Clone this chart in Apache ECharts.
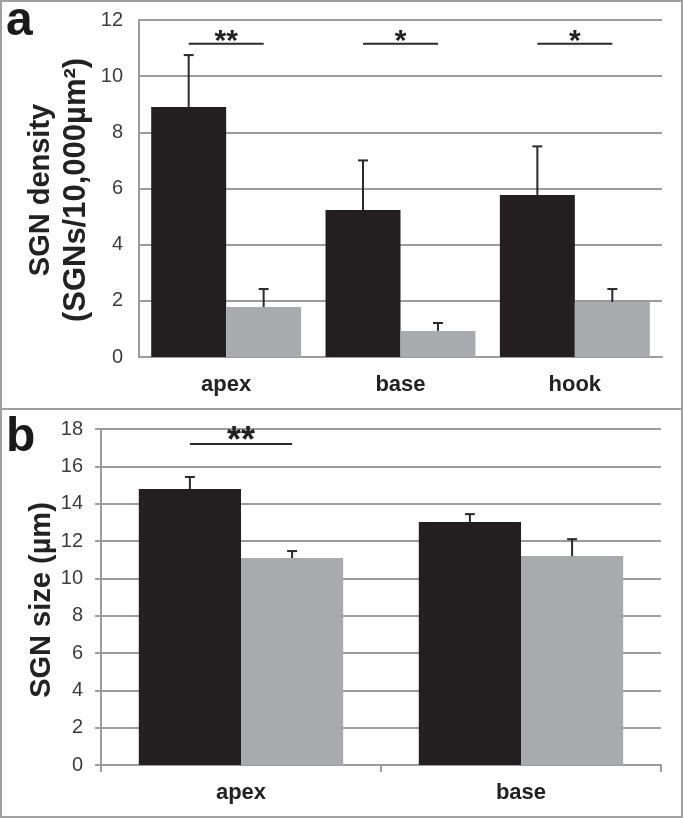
<!DOCTYPE html>
<html>
<head>
<meta charset="utf-8">
<script src="https://cdn.jsdelivr.net/npm/echarts@6/dist/echarts.min.js"></script>
<style>html,body{margin:0;padding:0;background:#fff}#c{width:683px;height:818px}</style>
</head>
<body>
<div id="c"></div>
<script>
// Panel a: SGN density
const categoriesA = ['apex', 'base', 'hook'];
const densityControl = [8.9, 5.23, 5.77];
const densityControlErr = [1.85, 1.77, 1.73];
const densityTreated = [1.78, 0.93, 1.96];
const densityTreatedErr = [0.64, 0.28, 0.46];
const densitySig = ['**', '*', '*'];
const densitySigLevel = 11.15;
const densityAxis = { min: 0, max: 12, interval: 2 };

// Panel b: SGN size
const categoriesB = ['apex', 'base'];
const sizeControl = [14.78, 13.02];
const sizeControlErr = [0.65, 0.42];
const sizeTreated = [11.09, 11.19];
const sizeTreatedErr = [0.37, 0.91];
const sizeSig = ['**', ''];
const sizeSigLevel = 17.2;
const sizeAxis = { min: 0, max: 18, interval: 2 };

const FONT = '"Liberation Sans", Arial, sans-serif';
const GRID_COLOR = '#9c9c9c';
const BLACK = '#231f20';
const GRAY = '#a9aaad';
const gapA = 0.14, gapB = 0.27;

function errSeries(xi, yi, vals, errs, side, gap) {
  return {
    type: 'custom', xAxisIndex: xi, yAxisIndex: yi, z: 5, silent: true,
    data: vals.map((v, i) => [i, v, errs[i]]),
    renderItem: function (params, api) {
      const i = api.value(0), v = api.value(1), e = api.value(2);
      const p0 = api.coord([i, v]);
      const p1 = api.coord([i, v + e]);
      const band = api.size([1, 0])[0];
      const bw = band * (1 - gap) / 2;
      const cx = p0[0] + side * bw / 2;
      const st = { stroke: '#2a2a2a', lineWidth: 2 };
      return { type: 'group', children: [
        { type: 'line', shape: { x1: cx, y1: p0[1], x2: cx, y2: p1[1] }, style: st },
        { type: 'line', shape: { x1: cx - 5, y1: p1[1], x2: cx + 5, y2: p1[1] }, style: st }
      ]};
    }
  };
}

function sigSeries(xi, yi, labels, level, gap, fs) {
  return {
    type: 'custom', xAxisIndex: xi, yAxisIndex: yi, z: 6, silent: true,
    data: labels.map((l, i) => [i, level]),
    renderItem: function (params, api) {
      const lab = labels[params.dataIndex];
      if (!lab) return null;
      const i = api.value(0);
      const p = api.coord([i, api.value(1)]);
      const band = api.size([1, 0])[0];
      const bw = band * (1 - gap) / 2;
      const x1 = p[0] - bw / 2, x2 = p[0] + bw / 2;
      return { type: 'group', children: [
        { type: 'line', shape: { x1: x1, y1: p[1], x2: x2, y2: p[1] }, style: { stroke: '#2a2a2a', lineWidth: 2 } },
        { type: 'text', style: { text: lab, x: (x1 + x2) / 2, y: p[1] - 2, textAlign: 'center', textVerticalAlign: 'middle', font: 'bold ' + fs + 'px ' + FONT, fill: '#222' } }
      ]};
    }
  };
}

const chart = echarts.init(document.getElementById('c'), null, { renderer: 'canvas' });
const yLabel = { color: '#3c3c3c', fontSize: 20, fontFamily: FONT };
const xLabel = { color: '#222', fontSize: 22, fontWeight: 'bold', fontFamily: FONT };
const lineSt = { color: GRID_COLOR, width: 2 };

chart.setOption({
  animation: false,
  backgroundColor: '#fff',
  grid: [
    { left: 139, right: 21, top: 20, bottom: 461 },
    { left: 101, right: 22, top: 429, bottom: 53 }
  ],
  xAxis: [
    { type: 'category', gridIndex: 0, data: categoriesA, axisTick: { show: false },
      axisLine: { lineStyle: lineSt }, axisLabel: Object.assign({ margin: 17 }, xLabel) },
    { type: 'category', gridIndex: 1, data: categoriesB, axisTick: { show: true, length: 7, lineStyle: lineSt },
      axisLine: { lineStyle: lineSt }, axisLabel: Object.assign({ margin: 17 }, xLabel) }
  ],
  yAxis: [
    { type: 'value', gridIndex: 0, min: densityAxis.min, max: densityAxis.max, interval: densityAxis.interval,
      axisLine: { show: true, lineStyle: lineSt }, axisTick: { show: false },
      splitLine: { lineStyle: { color: GRID_COLOR, width: 2 } },
      axisLabel: Object.assign({ margin: 16 }, yLabel) },
    { type: 'value', gridIndex: 1, min: sizeAxis.min, max: sizeAxis.max, interval: sizeAxis.interval,
      axisLine: { show: true, lineStyle: lineSt }, axisTick: { show: true, length: 6, lineStyle: lineSt },
      splitLine: { lineStyle: { color: GRID_COLOR, width: 2 } },
      axisLabel: Object.assign({ margin: 18 }, yLabel) }
  ],
  series: [
    { type: 'bar', xAxisIndex: 0, yAxisIndex: 0, data: densityControl, itemStyle: { color: BLACK },
      barGap: '0%', barCategoryGap: (gapA * 100) + '%' },
    { type: 'bar', xAxisIndex: 0, yAxisIndex: 0, data: densityTreated, itemStyle: { color: GRAY },
      barGap: '0%', barCategoryGap: (gapA * 100) + '%' },
    { type: 'bar', xAxisIndex: 1, yAxisIndex: 1, data: sizeControl, itemStyle: { color: BLACK },
      barGap: '0%', barCategoryGap: (gapB * 100) + '%' },
    { type: 'bar', xAxisIndex: 1, yAxisIndex: 1, data: sizeTreated, itemStyle: { color: GRAY },
      barGap: '0%', barCategoryGap: (gapB * 100) + '%' },
    errSeries(0, 0, densityControl, densityControlErr, -1, gapA),
    errSeries(0, 0, densityTreated, densityTreatedErr, 1, gapA),
    errSeries(1, 1, sizeControl, sizeControlErr, -1, gapB),
    errSeries(1, 1, sizeTreated, sizeTreatedErr, 1, gapB),
    sigSeries(0, 0, densitySig, densitySigLevel, gapA, 30),
    sigSeries(1, 1, sizeSig, sizeSigLevel, gapB, 36)
  ],
  graphic: [
    { type: 'rect', shape: { x: 1, y: 1, width: 681, height: 816 }, style: { fill: 'none', stroke: '#a0a0a0', lineWidth: 2 }, z: 10 },
    { type: 'line', shape: { x1: 0, y1: 409, x2: 683, y2: 409 }, style: { stroke: '#a0a0a0', lineWidth: 2 }, z: 10 },
    { type: 'text', left: 6, top: -2, style: { text: 'a', font: 'bold 48px ' + FONT, fill: '#1a1a1a' } },
    { type: 'text', left: 6, top: 414, style: { text: 'b', font: 'bold 48px ' + FONT, fill: '#1a1a1a' } },
    { type: 'text', x: 59, y: 190, rotation: Math.PI / 2,
      style: { text: '{l1|SGN density}\n{l2|(SGNs/10,000µm²)}', textAlign: 'center', textVerticalAlign: 'middle',
               rich: { l1: { font: 'bold 29px ' + FONT, lineHeight: 34, fill: '#222' },
                       l2: { font: 'bold 31px ' + FONT, lineHeight: 36, fill: '#222' } } } },
    { type: 'text', x: 42, y: 600, rotation: Math.PI / 2,
      style: { text: 'SGN size (µm)', textAlign: 'center', textVerticalAlign: 'middle',
               font: 'bold 29px ' + FONT, fill: '#222' } }
  ]
});
</script>
</body>
</html>
